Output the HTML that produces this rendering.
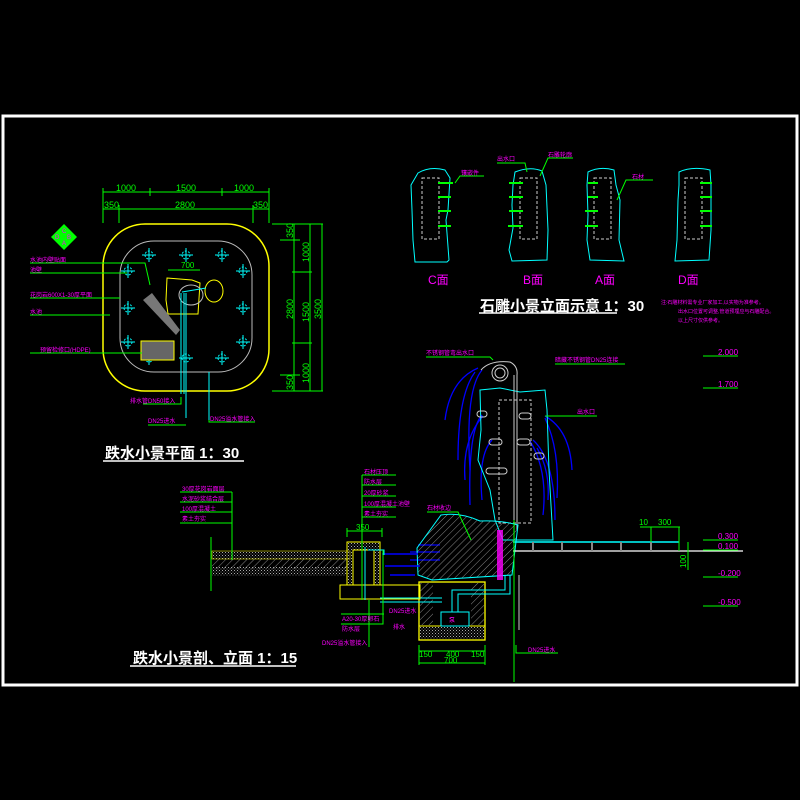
<!DOCTYPE html>
<html><head><meta charset="utf-8"><style>
html,body{margin:0;padding:0;background:#000;width:800px;height:800px;overflow:hidden}
svg{display:block}
text{font-family:"Liberation Sans","Noto Sans CJK SC",sans-serif}
</style></head><body>
<svg width="800" height="800" viewBox="0 0 800 800" xmlns="http://www.w3.org/2000/svg">
<defs>
<pattern id="hatch" width="5" height="5" patternUnits="userSpaceOnUse" patternTransform="rotate(45)">
<line x1="0" y1="0" x2="0" y2="5" stroke="#888" stroke-width="1"/></pattern>
<pattern id="dots" width="3" height="3" patternUnits="userSpaceOnUse">
<rect width="1" height="1" fill="#aaa"/><rect x="1.5" y="1.5" width="1" height="1" fill="#777"/></pattern>
<g id="cross"><line x1="-7" y1="0" x2="7" y2="0" stroke="#0ff" stroke-width="1"/><line x1="0" y1="-7" x2="0" y2="7" stroke="#0ff" stroke-width="1"/><circle r="4" fill="none" stroke="#0ff" stroke-dasharray="2 1.5"/></g>
</defs>
<rect width="800" height="800" fill="#000"/>
<rect x="3" y="116" width="794" height="569" fill="none" stroke="#fff" stroke-width="3"/>

<!-- ===== PLAN ===== -->
<g stroke="#0f0" stroke-width="1" fill="none">
<line x1="103" y1="192" x2="269" y2="192"/><line x1="103" y1="209" x2="269" y2="209"/>
<line x1="103" y1="188" x2="103" y2="223"/><line x1="150" y1="188" x2="150" y2="196"/><line x1="222" y1="188" x2="222" y2="196"/><line x1="269" y1="188" x2="269" y2="223"/>
<line x1="119" y1="205" x2="119" y2="223"/><line x1="253" y1="205" x2="253" y2="223"/>
<line x1="272" y1="224" x2="323" y2="224"/><line x1="272" y1="391" x2="323" y2="391"/>
<line x1="280" y1="240" x2="300" y2="240"/><line x1="280" y1="375" x2="300" y2="375"/>
<line x1="294" y1="224" x2="294" y2="391"/><line x1="310" y1="224" x2="310" y2="391"/><line x1="322" y1="224" x2="322" y2="391"/>
<line x1="292" y1="272" x2="312" y2="272"/><line x1="292" y1="343" x2="312" y2="343"/>
</g>
<g fill="#0f0" font-size="9">
<text x="116" y="191">1000</text><text x="176" y="191">1500</text><text x="234" y="191">1000</text>
<text x="104" y="208">350</text><text x="175" y="208">2800</text><text x="253" y="208">350</text>
<text transform="translate(293,238) rotate(-90)">350</text>
<text transform="translate(309,262) rotate(-90)">1000</text>
<text transform="translate(293,319) rotate(-90)">2800</text>
<text transform="translate(309,322) rotate(-90)">1500</text>
<text transform="translate(321,319) rotate(-90)">3500</text>
<text transform="translate(309,383) rotate(-90)">1000</text>
<text transform="translate(293,390) rotate(-90)">350</text>
</g>
<!-- compass -->
<polygon points="64,224 77,237 64,250 51,237" fill="#0f0"/>
<g font-size="6" fill="#f0f"><text x="62" y="233">C</text><text x="55" y="239">D</text><text x="67" y="239">B</text><text x="62" y="245">A</text></g>
<rect x="103" y="224" width="166" height="167" rx="42" fill="none" stroke="#ff0" stroke-width="1.5"/>
<rect x="120" y="241" width="132" height="131" rx="34" fill="none" stroke="#bbb" stroke-width="1"/>
<g>
<use href="#cross" x="149" y="255"/><use href="#cross" x="186" y="255"/><use href="#cross" x="222" y="255"/>
<use href="#cross" x="128" y="271"/><use href="#cross" x="243" y="271"/>
<use href="#cross" x="128" y="308"/><use href="#cross" x="243" y="308"/>
<use href="#cross" x="128" y="342"/><use href="#cross" x="243" y="342"/>
<use href="#cross" x="149" y="358"/><use href="#cross" x="186" y="358"/><use href="#cross" x="222" y="358"/>
</g>
<path d="M167,278 L192,280 L200,283 L198,314 L168,314 L166,300 Z" fill="none" stroke="#ff0"/>
<ellipse cx="191" cy="295" rx="12" ry="10" fill="none" stroke="#bbb"/>
<ellipse cx="214" cy="291" rx="9" ry="11" fill="none" stroke="#ff0"/>
<path d="M143,300 L152,293 L180,330 L176,335 Z" fill="#777"/>
<rect x="141" y="341" width="33" height="19" fill="#666" stroke="#ff0"/>
<g stroke="#0ff" fill="none">
<line x1="182" y1="292" x2="206" y2="288"/>
<line x1="181" y1="293" x2="181" y2="394"/><line x1="184" y1="293" x2="184" y2="394"/><line x1="186" y1="293" x2="186" y2="418"/>
<line x1="209" y1="372" x2="209" y2="420"/>
</g>
<g stroke="#0f0" fill="none">
<polyline points="30,263 145,263 150,285"/><line x1="30" y1="273" x2="127" y2="273"/>
<line x1="30" y1="298" x2="120" y2="298"/><line x1="30" y1="315" x2="110" y2="315"/>
<line x1="30" y1="353" x2="142" y2="353"/>
<polyline points="143,404 181,404 181,397"/><polyline points="148,425 186,425"/><polyline points="209,420 209,422 255,422"/>
<line x1="168" y1="270" x2="200" y2="270"/>
</g>
<g font-size="6" fill="#f0f">
<text x="30" y="262">水池内壁贴面</text><text x="30" y="272">池壁</text><text x="30" y="297">花岗岩600X1-30厚平面</text><text x="30" y="314">水池</text><text x="40" y="352">预留检修口(HDPE)</text>
<text x="130" y="403">排水管DN50接入</text><text x="148" y="423">DN25进水</text><text x="210" y="421">DN25溢水管接入</text>
<text x="181" y="268" fill="#0f0" font-size="8">700</text>
</g>
<text x="105" y="458" fill="#fff" font-size="15" font-weight="bold">跌水小景平面 1：30</text>
<line x1="103" y1="461" x2="244" y2="461" stroke="#fff" stroke-width="1.5"/>

<!-- ===== ELEVATIONS ===== -->
<g fill="none" stroke="#0ff" stroke-width="1">
<path d="M418,173 Q430,166 445,170 L450,178 L448,210 L446,220 L449,260 L447,262 L415,262 L413,240 L412,210 L411,185 Z"/>
<path d="M515,172 Q530,166 542,171 L546,185 L548,230 L547,260 L512,261 L509,250 L513,228 L512,205 L513,185 Z"/>
<path d="M588,172 Q600,166 614,170 L616,185 L620,200 L619,240 L624,261 L590,260 L587,240 L588,215 L587,185 Z"/>
<path d="M679,172 Q692,166 710,170 L711,185 L711,230 L709,260 L675,261 L677,240 L678,200 L679,185 Z"/>
</g>
<g fill="none" stroke="#ccc" stroke-dasharray="3 2">
<rect x="422" y="178" width="17" height="61"/><rect x="520" y="178" width="17" height="61"/>
<rect x="594" y="178" width="17" height="61"/><rect x="685" y="178" width="17" height="61"/>
</g>
<g stroke="#0f0" stroke-width="2">
<line x1="438" y1="183" x2="453" y2="183"/><line x1="438" y1="197" x2="451" y2="197"/><line x1="438" y1="211" x2="451" y2="211"/><line x1="438" y1="226" x2="451" y2="226"/>
<line x1="509" y1="183" x2="523" y2="183"/><line x1="509" y1="197" x2="523" y2="197"/><line x1="509" y1="211" x2="523" y2="211"/><line x1="508" y1="226" x2="523" y2="226"/>
<line x1="588" y1="183" x2="598" y2="183"/><line x1="588" y1="197" x2="598" y2="197"/><line x1="585" y1="211" x2="598" y2="211"/><line x1="585" y1="226" x2="598" y2="226"/>
<line x1="700" y1="183" x2="712" y2="183"/><line x1="700" y1="197" x2="712" y2="197"/><line x1="700" y1="211" x2="712" y2="211"/><line x1="700" y1="226" x2="712" y2="226"/>
</g>
<g stroke="#0f0" fill="none">
<polyline points="455,183 460,176 484,176"/><polyline points="497,163 525,163 527,172"/><polyline points="540,176 548,158 573,158"/>
<polyline points="617,200 626,180 653,180"/>
</g>
<g font-size="6" fill="#f0f">
<text x="461" y="175">镶嵌件</text><text x="497" y="161">出水口</text><text x="548" y="157">石雕轮廓</text><text x="632" y="179">石材</text>
</g>
<g font-size="12" fill="#f0f">
<text x="428" y="284">C面</text><text x="523" y="284">B面</text><text x="595" y="284">A面</text><text x="678" y="284">D面</text>
</g>
<text x="480" y="311" fill="#fff" font-size="15" font-weight="bold">石雕小景立面示意 1：30</text>
<line x1="479" y1="313" x2="617" y2="313" stroke="#fff" stroke-width="1.5"/>
<g font-size="5" fill="#f0f"><text x="661" y="304">注:石雕材料需专业厂家加工,以实物为准参考。</text><text x="678" y="313">出水口位置可调整,管道预埋应与石雕配合。</text><text x="678" y="322">以上尺寸仅供参考。</text></g>

<!-- ===== SECTION RIGHT ===== -->
<g stroke="#00f" stroke-width="1.3" fill="none">
<path d="M478,368 Q450,380 445,420"/><path d="M475,372 Q458,395 458,460"/><path d="M482,370 Q465,390 470,470"/>
<path d="M482,415 Q468,430 470,505"/><path d="M483,416 Q462,440 465,480"/>
<path d="M492,440 Q478,455 482,500"/><path d="M545,416 Q570,430 572,470"/><path d="M545,418 Q560,450 557,498"/>
<path d="M533,440 Q555,460 555,520"/><path d="M537,448 Q550,470 548,500"/><path d="M530,441 Q548,470 543,515"/>
<path d="M440,545 L418,545 M440,552 L410,552 M440,560 L410,560"/>
</g>
<path d="M480,390 L500,388 L520,392 L545,390 L547,410 L549,470 L553,540 L503,540 L495,520 L490,490 L478,460 L481,430 Z" fill="none" stroke="#0ff"/>
<g fill="none" stroke="#ccc">
<path d="M481,370 Q490,360 510,362 Q518,366 517,375 L517,530"/>
<line x1="514" y1="375" x2="514" y2="530"/><circle cx="500" cy="373" r="8"/><circle cx="500" cy="373" r="5"/>
<rect x="499" y="400" width="32" height="123" stroke-dasharray="3 2"/>
<rect x="477" y="411" width="10" height="6" rx="3"/><rect x="519" y="413" width="12" height="6" rx="3"/>
<rect x="489" y="439" width="13" height="6" rx="3"/><rect x="517" y="439" width="13" height="6" rx="3"/>
<rect x="486" y="468" width="21" height="6" rx="3"/><rect x="534" y="453" width="10" height="6" rx="3"/>
</g>
<path d="M441,515 Q460,512 480,521 Q500,520 518,525 L512,575 L432,580 L418,575 L417,548 Z" fill="url(#hatch)" stroke="#0ff"/>
<line x1="513" y1="542" x2="679" y2="542" stroke="#0ff" stroke-width="1.5"/>
<line x1="513" y1="551" x2="743" y2="551" stroke="#fff" stroke-width="1.3"/>
<g stroke="#888" stroke-width="2"><line x1="533" y1="542" x2="533" y2="551"/><line x1="562" y1="542" x2="562" y2="551"/><line x1="592" y1="542" x2="592" y2="551"/><line x1="621" y1="542" x2="621" y2="551"/><line x1="651" y1="542" x2="651" y2="551"/></g>
<line x1="514" y1="520" x2="514" y2="682" stroke="#0f0"/>
<line x1="519" y1="575" x2="519" y2="630" stroke="#ccc"/>
<rect x="497" y="530" width="6" height="50" fill="#f0f" opacity="0.8"/>
<g stroke="#0f0" fill="none">
<polyline points="426,357 490,357 493,360"/><polyline points="555,364 625,364"/><polyline points="545,416 597,416"/>
<polyline points="427,512 458,512 471,540"/>
<line x1="640" y1="527" x2="680" y2="527"/><line x1="651" y1="527" x2="651" y2="542"/><line x1="679" y1="527" x2="679" y2="551"/>
<line x1="688" y1="542" x2="688" y2="570"/>
<polyline points="516,645 516,653 558,653"/>
</g>
<g font-size="6" fill="#f0f"><text x="426" y="355">不锈钢管弯出水口</text><text x="555" y="362">暗藏不锈钢管DN25连接</text><text x="577" y="414">出水口</text><text x="427" y="510">石材收边</text><text x="528" y="652">DN25进水</text></g>
<g font-size="8" fill="#0f0"><text x="639" y="525">10</text><text x="658" y="525">300</text><text transform="translate(686,568) rotate(-90)">100</text></g>
<g stroke="#0f0" fill="none">
<line x1="703" y1="356" x2="738" y2="356"/><line x1="703" y1="388" x2="738" y2="388"/>
<line x1="703" y1="540" x2="738" y2="540"/><line x1="703" y1="550" x2="738" y2="550"/>
<line x1="703" y1="577" x2="738" y2="577"/><line x1="703" y1="606" x2="738" y2="606"/>
</g>
<g font-size="8" fill="#f0f"><text x="718" y="355">2.000</text><text x="718" y="387">1.700</text><text x="718" y="539">0.300</text><text x="718" y="549">0.100</text><text x="718" y="576">-0.200</text><text x="718" y="605">-0.500</text></g>

<!-- basin -->
<rect x="419" y="582" width="66" height="58" fill="none" stroke="#ff0" stroke-width="1.3"/>
<rect x="420" y="583" width="13" height="42" fill="url(#hatch)"/><rect x="471" y="583" width="13" height="42" fill="url(#hatch)"/>
<rect x="420" y="627" width="64" height="12" fill="url(#dots)"/>
<line x1="419" y1="626" x2="485" y2="626" stroke="#ff0"/>
<rect x="441" y="612" width="28" height="14" fill="none" stroke="#0ff"/>
<g stroke="#0ff" fill="none"><polyline points="452,612 452,590 505,590 505,575"/><polyline points="458,612 458,594 510,594 510,575"/>
<line x1="380" y1="598" x2="442" y2="598"/><line x1="380" y1="602" x2="442" y2="602"/></g>
<g font-size="6" fill="#f0f"><text x="449" y="622">泵</text><text x="389" y="613">DN25进水</text><text x="393" y="629">排水</text></g>
<g stroke="#0f0" fill="none"><line x1="419" y1="651" x2="485" y2="651"/><line x1="419" y1="663" x2="485" y2="663"/><line x1="419" y1="645" x2="419" y2="665"/><line x1="485" y1="645" x2="485" y2="665"/></g>
<g font-size="8" fill="#0f0"><text x="419" y="657">150</text><text x="446" y="657">400</text><text x="471" y="657">150</text><text x="444" y="663">700</text></g>

<!-- ===== SECTION LEFT ===== -->
<rect x="212" y="551" width="138" height="8" fill="url(#dots)" stroke="#ff0" stroke-width="0.5"/>
<rect x="212" y="559" width="138" height="10" fill="url(#hatch)"/>
<rect x="212" y="567" width="138" height="9" fill="url(#dots)"/>
<path d="M347,542 L380,542 L380,585 L374,585 L374,550 L353,550 L353,585 L347,585 Z" fill="url(#dots)" stroke="#ff0"/>
<rect x="340" y="585" width="80" height="14" fill="none" stroke="#ff0"/>
<line x1="340" y1="599" x2="420" y2="599" stroke="#ff0"/>
<g stroke="#00f" stroke-width="1.5"><line x1="382" y1="554" x2="418" y2="554"/><line x1="385" y1="566" x2="420" y2="566"/><line x1="390" y1="575" x2="415" y2="575"/></g>
<g stroke="#0ff" fill="none"><polyline points="365,547 365,600"/><polyline points="368,550 384,550 384,555"/></g>
<g stroke="#0f0" fill="none">
<line x1="232" y1="492" x2="232" y2="560"/><line x1="180" y1="492" x2="232" y2="492"/><line x1="180" y1="502" x2="232" y2="502"/><line x1="180" y1="512" x2="232" y2="512"/><line x1="180" y1="523" x2="232" y2="523"/>
<line x1="211" y1="537" x2="211" y2="591"/>
<line x1="362" y1="475" x2="362" y2="600"/><line x1="362" y1="475" x2="396" y2="475"/><line x1="362" y1="485" x2="396" y2="485"/><line x1="362" y1="496" x2="396" y2="496"/><line x1="362" y1="507" x2="396" y2="507"/><line x1="362" y1="517" x2="396" y2="517"/>
<line x1="347" y1="531" x2="382" y2="531"/><line x1="347" y1="528" x2="347" y2="537"/><line x1="382" y1="528" x2="382" y2="537"/>
<polyline points="383,550 383,624 341,624"/><line x1="341" y1="614" x2="384" y2="614"/>
<line x1="369" y1="600" x2="369" y2="647"/>
</g>
<g font-size="6" fill="#f0f">
<text x="182" y="491">30厚花岗岩面层</text><text x="182" y="501">水泥砂浆结合层</text><text x="182" y="511">100厚混凝土</text><text x="182" y="521">素土夯实</text>
<text x="364" y="474">石材压顶</text><text x="364" y="484">防水层</text><text x="364" y="495">20厚砂浆</text><text x="364" y="506">100厚混凝土池壁</text><text x="364" y="516">素土夯实</text>
<text x="342" y="621">A20-30厚卵石</text><text x="342" y="631">防水层</text><text x="322" y="645">DN25溢水管接入</text>
</g>
<text x="356" y="530" fill="#0f0" font-size="8">350</text>
<text x="133" y="663" fill="#fff" font-size="15" font-weight="bold">跌水小景剖、立面 1：15</text>
<line x1="130" y1="666" x2="296" y2="666" stroke="#fff" stroke-width="1.5"/>
</svg>
</body></html>
